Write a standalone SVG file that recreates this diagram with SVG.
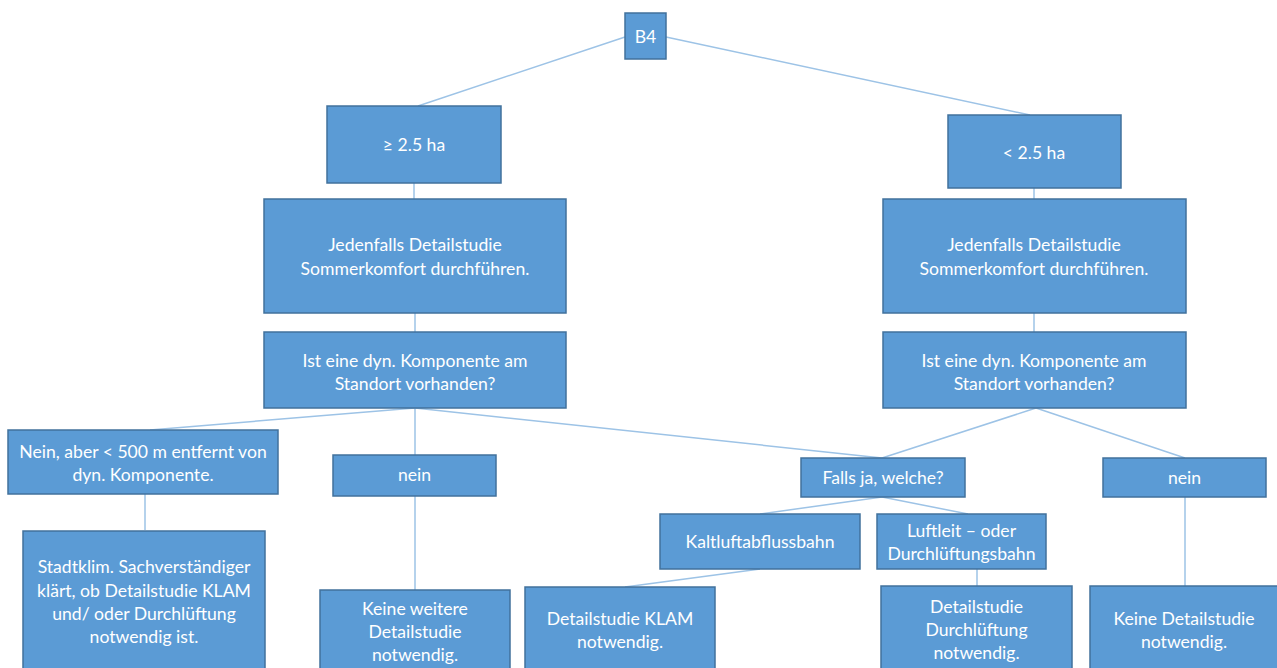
<svg xmlns="http://www.w3.org/2000/svg" width="1277" height="668" viewBox="0 0 1277 668">
<style>
.box{fill:#5b9bd5;stroke:#41719c;stroke-width:1.5}
.t{font-family:Lato,"Open Sans","Liberation Sans",sans-serif;font-size:17.6px;fill:#ffffff;text-anchor:middle}
.c{stroke:#9dc3e6;stroke-width:1.5;fill:none}
</style>
<rect width="1277" height="668" fill="#ffffff"/>
<g id="connectors">
<line class="c" x1="625" y1="37" x2="418" y2="106"/>
<line class="c" x1="666" y1="37" x2="1030" y2="115"/>
<line class="c" x1="414" y1="183" x2="414" y2="199"/>
<line class="c" x1="415" y1="313" x2="415" y2="332"/>
<line class="c" x1="1034" y1="188" x2="1034" y2="199"/>
<line class="c" x1="1034" y1="313" x2="1034" y2="332"/>
<line class="c" x1="415" y1="408" x2="150" y2="430"/>
<line class="c" x1="415" y1="408" x2="415" y2="455"/>
<line class="c" x1="415" y1="408" x2="882" y2="458"/>
<line class="c" x1="1036" y1="408" x2="882" y2="458"/>
<line class="c" x1="1036" y1="408" x2="1185" y2="458"/>
<line class="c" x1="882" y1="497" x2="760" y2="514"/>
<line class="c" x1="882" y1="497" x2="968" y2="514"/>
<line class="c" x1="760" y1="569" x2="625" y2="587"/>
<line class="c" x1="977" y1="569" x2="977" y2="586"/>
<line class="c" x1="145" y1="494" x2="145" y2="530"/>
<line class="c" x1="415" y1="496" x2="415" y2="590"/>
<line class="c" x1="1185" y1="497" x2="1185" y2="586"/>
</g>
<g id="b4"><rect class="box" x="625" y="13" width="41" height="46"/><text class="t" x="645.5" y="43">B4</text></g>
<g id="ge25"><rect class="box" x="327" y="106" width="174" height="77"/><text class="t" x="414" y="151">≥ 2.5 ha</text></g>
<g id="lt25"><rect class="box" x="948" y="115" width="173" height="73"/><text class="t" x="1034" y="159">&lt; 2.5 ha</text></g>
<g id="jed-left"><rect class="box" x="264" y="199" width="302" height="114"/><text class="t" x="415" y="251">Jedenfalls Detailstudie</text><text class="t" x="415" y="275">Sommerkomfort durchführen.</text></g>
<g id="jed-right"><rect class="box" x="883" y="199" width="303" height="114"/><text class="t" x="1034" y="251">Jedenfalls Detailstudie</text><text class="t" x="1034" y="275">Sommerkomfort durchführen.</text></g>
<g id="ist-left"><rect class="box" x="264" y="332" width="302" height="76"/><text class="t" x="415" y="367">Ist eine dyn. Komponente am</text><text class="t" x="415" y="390">Standort vorhanden?</text></g>
<g id="ist-right"><rect class="box" x="883" y="332" width="303" height="76"/><text class="t" x="1034" y="367">Ist eine dyn. Komponente am</text><text class="t" x="1034" y="390">Standort vorhanden?</text></g>
<g id="nein-aber"><rect class="box" x="8" y="430" width="270" height="64"/><text class="t" x="143" y="458">Nein, aber &lt; 500 m entfernt von</text><text class="t" x="143" y="481">dyn. Komponente.</text></g>
<g id="nein-left"><rect class="box" x="333" y="455" width="163" height="41"/><text class="t" x="414.5" y="481">nein</text></g>
<g id="falls"><rect class="box" x="801" y="458" width="164" height="39"/><text class="t" x="883" y="484">Falls ja, welche?</text></g>
<g id="nein-right"><rect class="box" x="1103" y="458" width="163" height="39"/><text class="t" x="1184.5" y="484">nein</text></g>
<g id="kalt"><rect class="box" x="660" y="514" width="200" height="55"/><text class="t" x="760" y="548">Kaltluftabflussbahn</text></g>
<g id="luft"><rect class="box" x="877" y="514" width="169" height="55"/><text class="t" x="961.5" y="537">Luftleit – oder</text><text class="t" x="961.5" y="560">Durchlüftungsbahn</text></g>
<g id="stadt"><rect class="box" x="23" y="531" width="242" height="145"/><text class="t" x="144" y="573">Stadtklim. Sachverständiger</text><text class="t" x="144" y="597">klärt, ob Detailstudie KLAM</text><text class="t" x="144" y="620">und/ oder Durchlüftung</text><text class="t" x="144" y="643">notwendig ist.</text></g>
<g id="keine-weitere"><rect class="box" x="320" y="590" width="190" height="86"/><text class="t" x="415" y="615">Keine weitere</text><text class="t" x="415" y="638">Detailstudie</text><text class="t" x="415" y="661">notwendig.</text></g>
<g id="klam"><rect class="box" x="525" y="587" width="190" height="89"/><text class="t" x="620" y="625">Detailstudie KLAM</text><text class="t" x="620" y="648">notwendig.</text></g>
<g id="durch"><rect class="box" x="881" y="586" width="191" height="90"/><text class="t" x="976.5" y="613">Detailstudie</text><text class="t" x="976.5" y="636">Durchlüftung</text><text class="t" x="976.5" y="659">notwendig.</text></g>
<g id="keine"><rect class="box" x="1090" y="586" width="190" height="90"/><text class="t" x="1184" y="625">Keine Detailstudie</text><text class="t" x="1184" y="648">notwendig.</text></g>
</svg>
